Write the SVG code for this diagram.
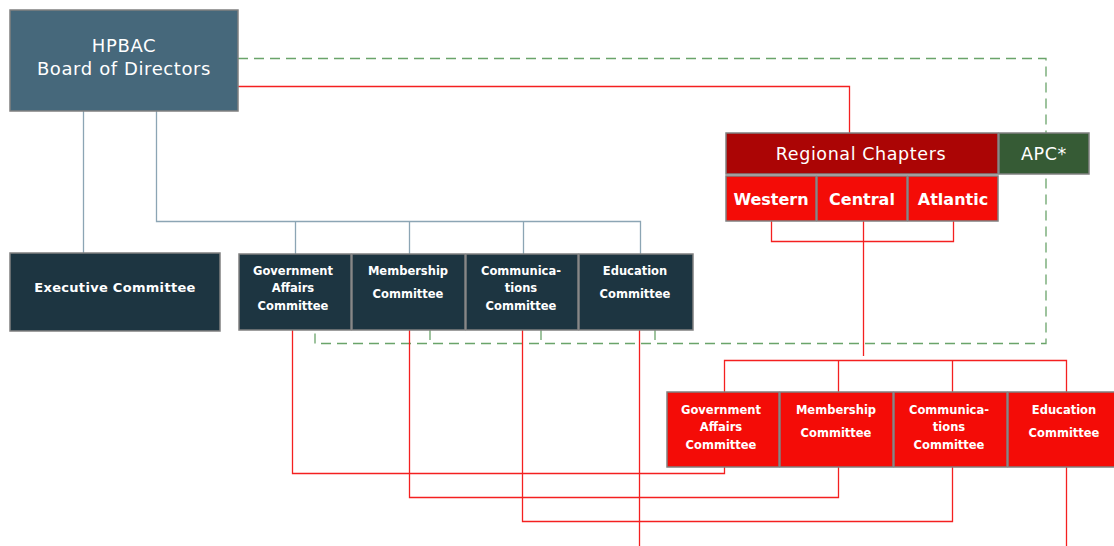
<svg xmlns="http://www.w3.org/2000/svg" width="1114" height="546" viewBox="0 0 1114 546">
<style>
.box{stroke:#808080;stroke-width:1.5}
.dark{fill:#1d3541}
.red{fill:#f40c07}
.t{font-family:"DejaVu Sans",Verdana,sans-serif;fill:#fff;text-anchor:middle}
.s{font-size:11.5px;font-weight:bold}
.blue{fill:none;stroke:#8ca5b4;stroke-width:1.3}
.rl{fill:none;stroke:#f42020;stroke-width:1.3}
.gd{fill:none;stroke:#6aa46a;stroke-width:1.3;stroke-dasharray:10 6}
</style>
<rect width="1114" height="546" fill="#fff"/>
<g id="connectors">
  <path class="gd" d="M238,58.5 H1046 V343.5 H315 V330 M430,330 V343.5 M541,330 V343.5 M655,330 V343.5"/>
  <path class="rl" d="M238,86.5 H849.5 V133"/>
  <path class="blue" d="M83.5,111 V253 M156.5,111 V221.5 H640.5 V254 M295.5,221.5 V254 M409.5,221.5 V254 M523.5,221.5 V254"/>
  <path class="rl" d="M771.5,221 V241.5 H953.5 V221 M863.5,221 V356"/>
  <path class="rl" d="M724.5,392 V360.5 H1066.5 V392 M838.5,360.5 V392 M952.5,360.5 V392"/>
  <path class="rl" d="M724.5,467 V473.5 H292.5 V330"/>
  <path class="rl" d="M838.5,467 V497.5 H409.5 V330"/>
  <path class="rl" d="M952.5,467 V521.5 H522.5 V330"/>
  <path class="rl" d="M639.5,330 V546"/>
  <path class="rl" d="M1066.5,467 V546"/>
</g>
<g id="hpbac">
  <rect class="box" x="10" y="10" width="228" height="101" fill="#46687b"/>
  <text class="t" x="124" y="52" font-size="18" letter-spacing="0.6">HPBAC</text>
  <text class="t" x="124" y="75" font-size="18" letter-spacing="0.6">Board of Directors</text>
</g>
<g id="regional">
  <rect class="box" x="726" y="133" width="272" height="41" fill="#ab0505"/>
  <text class="t" x="861" y="160" font-size="17.5" letter-spacing="0.6">Regional Chapters</text>
</g>
<g id="apc">
  <rect class="box" x="999" y="133" width="90" height="41" fill="#365b35"/>
  <text class="t" x="1044" y="160" font-size="17.5" letter-spacing="0.6">APC*</text>
</g>
<g id="western">
  <rect class="box red" x="726" y="176" width="90" height="45"/>
  <text class="t" x="771" y="205" font-size="16" font-weight="bold">Western</text>
</g>
<g id="central">
  <rect class="box red" x="817" y="176" width="90" height="45"/>
  <text class="t" x="862" y="205" font-size="16" font-weight="bold">Central</text>
</g>
<g id="atlantic">
  <rect class="box red" x="908" y="176" width="90" height="45"/>
  <text class="t" x="953" y="205" font-size="16" font-weight="bold">Atlantic</text>
</g>
<g id="executive">
  <rect class="box dark" x="10" y="253" width="210" height="78"/>
  <text class="t" x="115" y="292" font-size="13" font-weight="bold" letter-spacing="0.3">Executive Committee</text>
</g>
<g id="ga-dark">
  <rect class="box dark" x="239" y="254" width="112" height="76"/>
  <text class="t s" x="293" y="275">Government</text>
  <text class="t s" x="293" y="292">Affairs</text>
  <text class="t s" x="293" y="310">Committee</text>
</g>
<g id="mem-dark">
  <rect class="box dark" x="352" y="254" width="113" height="76"/>
  <text class="t s" x="408" y="275">Membership</text>
  <text class="t s" x="408" y="298">Committee</text>
</g>
<g id="comm-dark">
  <rect class="box dark" x="466" y="254" width="112" height="76"/>
  <text class="t s" x="521" y="275">Communica-</text>
  <text class="t s" x="521" y="292">tions</text>
  <text class="t s" x="521" y="310">Committee</text>
</g>
<g id="edu-dark">
  <rect class="box dark" x="579" y="254" width="114" height="76"/>
  <text class="t s" x="635" y="275">Education</text>
  <text class="t s" x="635" y="298">Committee</text>
</g>
<g id="ga-red">
  <rect class="box red" x="667" y="392" width="112" height="75"/>
  <text class="t s" x="721" y="414">Government</text>
  <text class="t s" x="721" y="431">Affairs</text>
  <text class="t s" x="721" y="449">Committee</text>
</g>
<g id="mem-red">
  <rect class="box red" x="780" y="392" width="113" height="75"/>
  <text class="t s" x="836" y="414">Membership</text>
  <text class="t s" x="836" y="437">Committee</text>
</g>
<g id="comm-red">
  <rect class="box red" x="894" y="392" width="113" height="75"/>
  <text class="t s" x="949" y="414">Communica-</text>
  <text class="t s" x="949" y="431">tions</text>
  <text class="t s" x="949" y="449">Committee</text>
</g>
<g id="edu-red">
  <rect class="box red" x="1008" y="392" width="110" height="75"/>
  <text class="t s" x="1064" y="414">Education</text>
  <text class="t s" x="1064" y="437">Committee</text>
</g>
</svg>
